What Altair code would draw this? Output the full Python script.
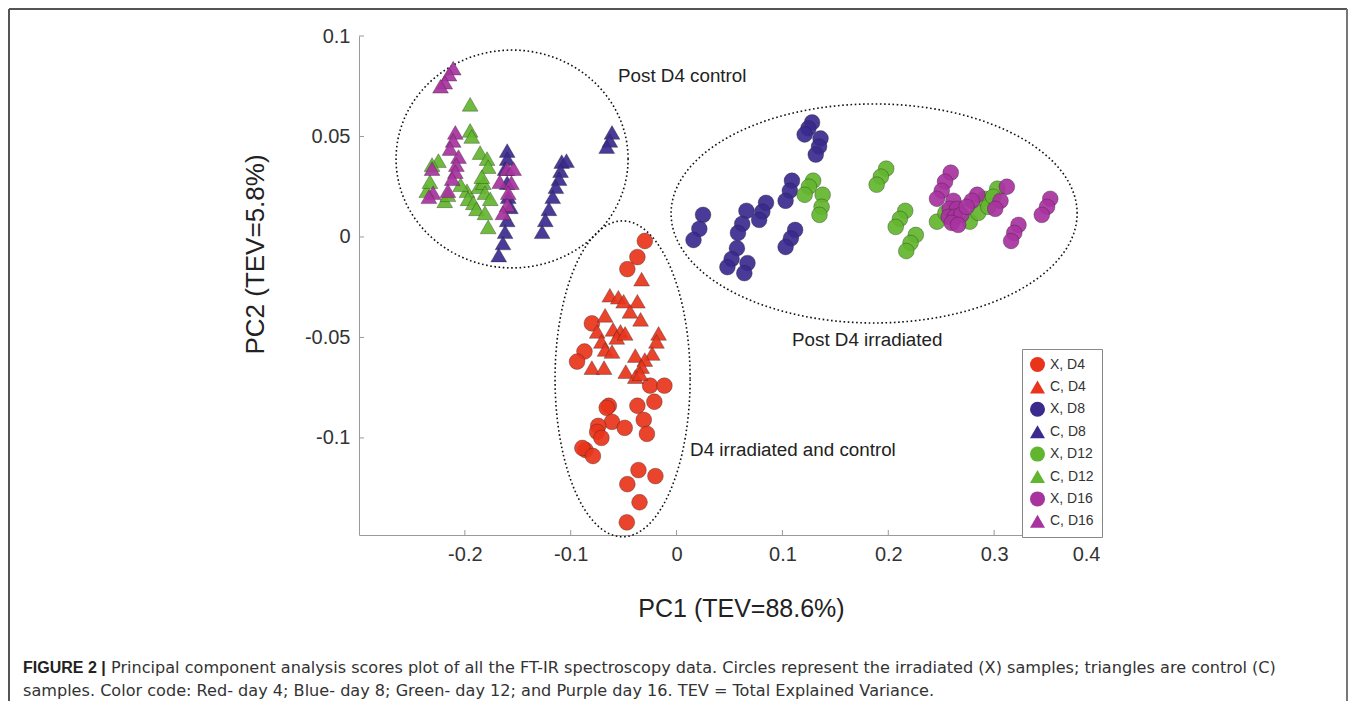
import altair as alt
import numpy as np
import pandas as pd

# ---------------- data ----------------
GROUPS = ["X, D4", "C, D4", "X, D8", "C, D8", "X, D12", "C, D12", "X, D16", "C, D16"]
COLORS = ["#E8341B", "#E8341B", "#3A2A8E", "#3A2A8E", "#62B52E", "#62B52E", "#A8329E", "#A8329E"]
SHAPES = ["circle", "triangle-up"] * 4

X_D4_PC1 = [-0.030, -0.037, -0.0465, -0.080, -0.087, -0.094, -0.025, -0.0115, -0.021, -0.037,
            -0.064, -0.066, -0.061, -0.049, -0.031, -0.028, -0.074, -0.075, -0.071, -0.086,
            -0.089, -0.079, -0.036, -0.020, -0.0465, -0.035, -0.047]
X_D4_PC2 = [-0.002, -0.010, -0.016, -0.043, -0.057, -0.062, -0.074, -0.074, -0.082, -0.084,
            -0.084, -0.085, -0.092, -0.095, -0.091, -0.098, -0.094, -0.097, -0.100, -0.106,
            -0.105, -0.109, -0.116, -0.119, -0.123, -0.132, -0.142]

C_D4_PC1 = [-0.033, -0.063, -0.055, -0.050, -0.037, -0.044, -0.034, -0.0675, -0.075, -0.060,
            -0.053, -0.0565, -0.0486, -0.071, -0.0675, -0.061, -0.080, -0.0685, -0.017, -0.019,
            -0.023, -0.039, -0.030, -0.033, -0.048, -0.039, -0.0345]
C_D4_PC2 = [-0.021, -0.029, -0.030, -0.032, -0.032, -0.037, -0.041, -0.039, -0.047, -0.046,
            -0.047, -0.050, -0.048, -0.052, -0.056, -0.057, -0.065, -0.065, -0.048, -0.052,
            -0.058, -0.059, -0.061, -0.0645, -0.067, -0.0695, -0.068]

X_D8_PC1 = [0.128, 0.1245, 0.121, 0.136, 0.1346, 0.1315, 0.025, 0.0215, 0.016, 0.066,
            0.062, 0.058, 0.057, 0.052, 0.048, 0.067, 0.064, 0.0845, 0.081, 0.078,
            0.109, 0.107, 0.103, 0.112, 0.108, 0.103]
X_D8_PC2 = [0.057, 0.054, 0.051, 0.049, 0.045, 0.041, 0.011, 0.004, -0.0015, 0.013,
            0.0065, 0.002, -0.0056, -0.011, -0.015, -0.013, -0.018, 0.017, 0.0126, 0.0085,
            0.028, 0.023, 0.018, 0.0035, -0.0007, -0.005]

C_D8_PC1 = [-0.160, -0.160, -0.162, -0.160, -0.159, -0.157, -0.160, -0.162, -0.164, -0.168,
            -0.1085, -0.104, -0.1096, -0.111, -0.114, -0.117, -0.1206, -0.124, -0.127,
            -0.061, -0.063, -0.066]
C_D8_PC2 = [0.043, 0.039, 0.034, 0.027, 0.020, 0.015, 0.0085, 0.0026, -0.003, -0.009,
            0.0375, 0.038, 0.033, 0.029, 0.025, 0.020, 0.014, 0.0085, 0.0026,
            0.052, 0.048, 0.045]

X_D12_PC1 = [0.129, 0.125, 0.121, 0.138, 0.137, 0.135, 0.198, 0.193, 0.189, 0.216,
             0.211, 0.207, 0.226, 0.221, 0.217, 0.246, 0.254, 0.277, 0.285, 0.291,
             0.2945, 0.303, 0.299]
X_D12_PC2 = [0.028, 0.025, 0.021, 0.021, 0.015, 0.011, 0.034, 0.030, 0.026, 0.013,
             0.009, 0.005, 0.001, -0.003, -0.007, 0.0076, 0.012, 0.0076, 0.012, 0.019,
             0.015, 0.024, 0.020]

C_D12_PC1 = [-0.195, -0.195, -0.1935, -0.225, -0.231, -0.236, -0.233, -0.219, -0.216, -0.198,
             -0.197, -0.192, -0.189, -0.187, -0.1825, -0.1856, -0.179, -0.178, -0.184, -0.181,
             -0.176, -0.181, -0.178, -0.204]
C_D12_PC2 = [0.066, 0.053, 0.050, 0.038, 0.036, 0.023, 0.0275, 0.018, 0.021, 0.023,
             0.019, 0.017, 0.014, 0.025, 0.027, 0.042, 0.039, 0.035, 0.030, 0.022,
             0.019, 0.012, 0.005, 0.026]

X_D16_PC1 = [0.259, 0.2536, 0.2505, 0.246, 0.2615, 0.258, 0.265, 0.257, 0.263, 0.269,
             0.260, 0.266, 0.284, 0.279, 0.274, 0.312, 0.306, 0.301, 0.323, 0.319,
             0.316, 0.353, 0.350, 0.345]
X_D16_PC2 = [0.032, 0.0275, 0.023, 0.019, 0.018, 0.014, 0.014, 0.010, 0.010, 0.011,
             0.007, 0.006, 0.021, 0.018, 0.015, 0.025, 0.018, 0.014, 0.006, 0.002,
             -0.002, 0.019, 0.015, 0.011]

C_D16_PC1 = [-0.211, -0.215, -0.219, -0.223, -0.209, -0.211, -0.214, -0.206, -0.208, -0.209,
             -0.212, -0.216, -0.231, -0.230, -0.234, -0.160, -0.154, -0.167, -0.156, -0.159,
             -0.160, -0.164]
C_D16_PC2 = [0.084, 0.081, 0.077, 0.075, 0.052, 0.048, 0.044, 0.040, 0.036, 0.0325,
             0.029, 0.023, 0.034, 0.022, 0.020, 0.034, 0.034, 0.0275, 0.027, 0.022,
             0.016, 0.012]

# dotted ellipses around the clusters (centre and half-axes, data units)
ELL_NAME = ["control", "irradiated", "d4"]
ELL_CX = [-0.1554, 0.1866, -0.0510]
ELL_CY = [0.0388, 0.0117, -0.0706]
ELL_RX = [0.1096, 0.1918, 0.0638]
ELL_RY = [0.0542, 0.0545, 0.0786]

ANN_TEXT = ["Post D4 control", "Post D4 irradiated", "D4 irradiated and control"]
ANN_X = [-0.0553, 0.1091, 0.0128]
ANN_Y = [0.0801, -0.0512, -0.1060]

X_TICKS = [-0.2, -0.1, 0, 0.1, 0.2, 0.3, 0.4]
Y_TICKS = [-0.1, -0.05, 0, 0.05, 0.1]
X_DOMAIN = [-0.3, 0.4]
Y_DOMAIN = [-0.1483, 0.1]

CAPTION_BOLD = "FIGURE 2 |"
CAPTION_1 = ("Principal component analysis scores plot of all the FT-IR spectroscopy data. "
             "Circles represent the irradiated (X) samples; triangles are control (C)")
CAPTION_2 = ("samples. Color code: Red- day 4; Blue- day 8; Green- day 12; and Purple day 16. "
             "TEV = Total Explained Variance.")

# ---------------- tables ----------------
series = [(X_D4_PC1, X_D4_PC2), (C_D4_PC1, C_D4_PC2), (X_D8_PC1, X_D8_PC2), (C_D8_PC1, C_D8_PC2),
          (X_D12_PC1, X_D12_PC2), (C_D12_PC1, C_D12_PC2), (X_D16_PC1, X_D16_PC2), (C_D16_PC1, C_D16_PC2)]
rows = []
for g, (xs_, ys_) in zip(GROUPS, series):
    for a, b in zip(xs_, ys_):
        rows.append({"pc1": a, "pc2": b, "group": g})
pts = pd.DataFrame(rows)

t = np.linspace(0, 2 * np.pi, 241)
erows = []
for n, cx, cy, rx, ry in zip(ELL_NAME, ELL_CX, ELL_CY, ELL_RX, ELL_RY):
    for i, a in enumerate(t):
        erows.append({"pc1": cx + rx * np.cos(a), "pc2": cy + ry * np.sin(a), "eid": n, "o": i})
ell = pd.DataFrame(erows)

ann = pd.DataFrame({"label": ANN_TEXT, "pc1": ANN_X, "pc2": ANN_Y})
xt = pd.DataFrame({"pc1": X_TICKS})
yt = pd.DataFrame({"pc2": Y_TICKS})
one = pd.DataFrame({"d": [0]})

FONT = "Liberation Sans"
W, H = 741, 499

xs = alt.Scale(domain=X_DOMAIN, nice=False, zero=False)
ys = alt.Scale(domain=Y_DOMAIN, nice=False, zero=False)

ax_x = alt.Axis(
    values=X_TICKS, labelExpr="'' + datum.value", ticks=False, grid=False,
    domainColor="#9a9a9a", labelFontSize=20, labelFont=FONT, labelColor="#333", labelPadding=9,
    title="PC1 (TEV=88.6%)", titleFont=FONT, titleFontSize=25, titleFontWeight="normal",
    titleColor="#222", titleX=382, titleY=73, titleBaseline="middle", titleAlign="center")
ax_y = alt.Axis(
    values=Y_TICKS, labelExpr="'' + datum.value", ticks=False, grid=False,
    domainColor="#9a9a9a", labelFontSize=20, labelFont=FONT, labelColor="#333", labelPadding=9,
    title="PC2 (TEV=5.8%)", titleFont=FONT, titleFontSize=26, titleFontWeight="normal",
    titleColor="#222", titleX=-104, titleY=218, titleAngle=-90, titleBaseline="middle",
    titleAlign="center")

X = alt.X("pc1:Q", scale=xs, axis=ax_x)
Y = alt.Y("pc2:Q", scale=ys, axis=ax_y)

legend = alt.Legend(orient="none", legendX=663, legendY=313, padding=8, rowPadding=7.4,
                    symbolSize=225, symbolStrokeWidth=0, symbolOpacity=1,
                    labelFontSize=14, labelFont=FONT, labelColor="#333", labelOffset=5,
                    strokeColor="#888", fillColor="white")

points = alt.Chart(pts).mark_point(filled=True, size=250, fillOpacity=0.92,
                                   stroke="#222", strokeWidth=0.6, strokeOpacity=0.55).encode(
    x=X, y=Y,
    color=alt.Color("group:N", scale=alt.Scale(domain=GROUPS, range=COLORS), legend=legend, title=None),
    shape=alt.Shape("group:N", scale=alt.Scale(domain=GROUPS, range=SHAPES), legend=legend, title=None),
)

ellipses = alt.Chart(ell).mark_line(color="#111", strokeWidth=1.6, strokeDash=[1.6, 2.6], clip=False).encode(
    x=X, y=Y, detail="eid:N", order="o:Q",
)

labels = alt.Chart(ann).mark_text(align="left", baseline="middle", fontSize=18.8, font=FONT,
                                  color="#222", clip=False).encode(
    x=X, y=Y, text="label:N",
)

xticks = alt.Chart(xt).mark_rule(color="#9a9a9a", strokeWidth=1).encode(
    x=X, y=alt.value(H), y2=alt.value(H - 5))
yticks = alt.Chart(yt).mark_rule(color="#9a9a9a", strokeWidth=1).encode(
    y=Y, x=alt.value(0), x2=alt.value(5))

cap_b = alt.Chart(one).mark_text(text=CAPTION_BOLD, align="left", baseline="middle", font=FONT,
                                 fontSize=16, fontWeight="bold", color="#222").encode(
    x=alt.value(-336), y=alt.value(632))
cap_1 = alt.Chart(one).mark_text(text=CAPTION_1, align="left", baseline="middle", font="DejaVu Sans",
                                 fontSize=16.1, color="#333").encode(
    x=alt.value(-248), y=alt.value(632))
cap_2 = alt.Chart(one).mark_text(text=CAPTION_2, align="left", baseline="middle", font="DejaVu Sans",
                                 fontSize=16.1, color="#333").encode(
    x=alt.value(-336), y=alt.value(655))

frame_top = alt.Chart(one).mark_rule(color="#555", strokeWidth=2).encode(
    x=alt.value(-350), x2=alt.value(988), y=alt.value(-27))
frame_left = alt.Chart(one).mark_rule(color="#555", strokeWidth=2).encode(
    x=alt.value(-350), y=alt.value(-27), y2=alt.value(700))
frame_right = alt.Chart(one).mark_rule(color="#777", strokeWidth=2).encode(
    x=alt.value(988), y=alt.value(-27), y2=alt.value(700))

chart = alt.layer(
    ellipses, points, labels, xticks, yticks, cap_b, cap_1, cap_2, frame_top, frame_left, frame_right
).properties(
    width=W, height=H,
    autosize=alt.AutoSizeParams(type="none"),
    padding={"left": 351, "top": 28, "right": 249, "bottom": 166},
    background="white",
).configure_view(strokeWidth=0)

chart.save("out.html", embed_options={"renderer": "svg", "actions": False})
